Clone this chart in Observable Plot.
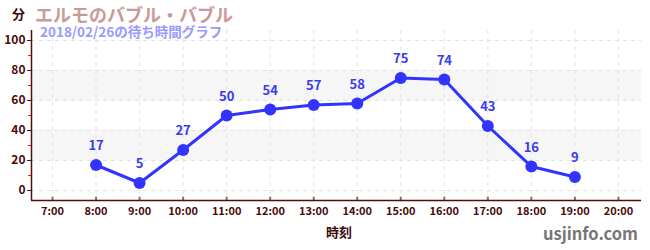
<!DOCTYPE html>
<html><head><meta charset="utf-8">
<script src="https://cdn.jsdelivr.net/npm/d3@7"></script>
<script src="https://cdn.jsdelivr.net/npm/@observablehq/plot@0.6"></script>
<style>
body{margin:0;background:#fff;font-family:"Noto Sans CJK JP","Noto Sans",sans-serif;}
#wrap{position:relative;width:650px;height:250px;}
.t{position:absolute;white-space:nowrap;font-weight:bold;}
</style></head><body>
<div id="wrap"></div>
<script>
const titleText = "エルモのバブル・バブル";
const subtitleText = "2018/02/26の待ち時間グラフ";
const unitLabel = "分";
const xLabel = "時刻";
const credit = "usjinfo.com";
const hours = [8, 9, 10, 11, 12, 13, 14, 15, 16, 17, 18, 19];
const waits = [17, 5, 27, 50, 54, 57, 58, 75, 74, 43, 16, 9];
const xTicks = [7, 8, 9, 10, 11, 12, 13, 14, 15, 16, 17, 18, 19, 20];
const yTicks = [0, 20, 40, 60, 80, 100];
const yMinor = [10, 30, 50, 70, 90];
const bands = [[20, 40], [60, 80]];

const data = hours.map((h, i) => ({h, w: waits[i]}));
const bandData = bands.map(([a, b]) => ({a, b}));
const font = '"Noto Sans CJK JP","Noto Sans",sans-serif';
const X0 = 6.517, X1 = 20.53, Y0 = -6.67, Y1 = 106.67;

const chart = Plot.plot({
  width: 650, height: 250,
  marginLeft: 31, marginRight: 9, marginTop: 30, marginBottom: 50,
  style: {fontFamily: font, background: "transparent", overflow: "visible"},
  x: {type: "linear", domain: [X0, X1]},
  y: {type: "linear", domain: [Y0, Y1]},
  marks: [
    Plot.rect(bandData, {x1: () => X0, x2: () => X1, y1: "a", y2: "b", fill: "#f6f6f6"}),
    Plot.ruleX(xTicks, {x: d => d, stroke: "#e2e2e2", strokeDasharray: "4,4", strokeWidth: 1}),
    Plot.ruleY(yTicks, {y: d => d, stroke: "#e2e2e2", strokeDasharray: "4,4", strokeWidth: 1}),
    Plot.axisY(yMinor, {tickSize: 3, stroke: "#dd2222", text: null, label: null}),
    Plot.axisY(yTicks, {tickSize: 4, tickPadding: 2, stroke: "#222", fill: "#4a0a0a", fontSize: 12, fontWeight: "bold", label: null, tickFormat: d => String(d)}),
    Plot.axisX(xTicks, {anchor: "bottom", tickSize: 0, tickPadding: 7, fill: "#4a0a0a", fontSize: 11, fontWeight: "bold", label: null, tickFormat: d => `${d}:00`}),
    Plot.ruleX(xTicks, {x: d => d, y1: () => Y0, y2: () => Y0 + 2.2, stroke: "#777", strokeWidth: 2}),
    Plot.ruleX([X0], {stroke: "#5a0a0a", strokeWidth: 1.5}),
    Plot.ruleY([Y0], {stroke: "#5a0a0a", strokeWidth: 1.5}),
    Plot.line(data, {x: "h", y: "w", stroke: "#3333ff", strokeWidth: 3}),
    Plot.dot(data, {x: "h", y: "w", r: 6, fill: "#3333ff"}),
    Plot.text(data, {x: "h", y: "w", text: d => String(d.w), dy: -19, fill: "#3a3aee", fontSize: 13, fontWeight: "bold"})
  ]
});
const wrap = document.getElementById("wrap");
wrap.appendChild(chart);

function addText(txt, css) {
  const d = document.createElement("div");
  d.className = "t"; d.textContent = txt;
  Object.assign(d.style, css);
  wrap.appendChild(d);
}
addText(unitLabel, {left: "12px", top: "6px", fontSize: "13px", color: "#3a0a0a", lineHeight: "16px"});
addText(titleText, {left: "35px", top: "4px", fontSize: "18px", color: "#c99a9a", lineHeight: "21px"});
addText(subtitleText, {left: "40px", top: "25px", fontSize: "13.5px", color: "#9a9aff", lineHeight: "12px"});
addText(xLabel, {left: "326px", top: "224px", fontSize: "13px", color: "#3a0a0a", lineHeight: "16px"});
addText(credit, {left: "543px", top: "222px", fontSize: "16.5px", color: "#777", lineHeight: "22px"});
</script>
</body></html>
